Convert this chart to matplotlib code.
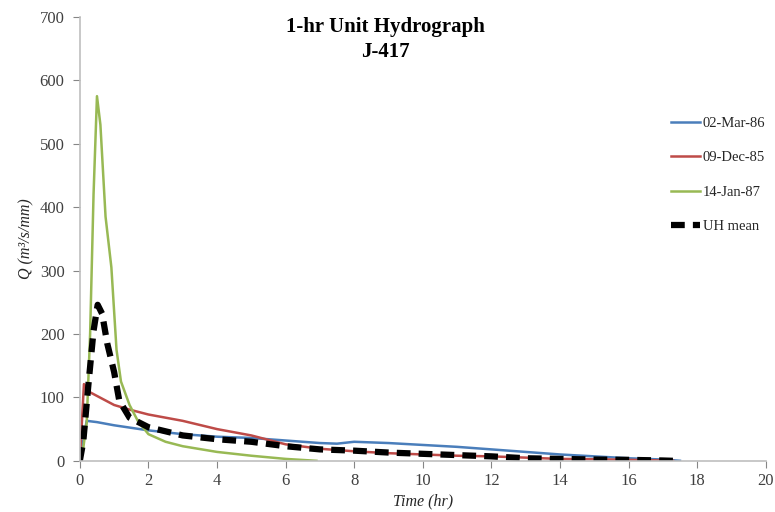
import matplotlib
matplotlib.use("Agg")
import matplotlib.pyplot as plt

# ---- data ----
t_mar86 = [0, 0.2, 0.5, 1, 2, 3, 4, 5, 6, 7, 7.5, 8, 9, 10, 11, 12, 13, 14, 15, 16, 17, 17.5]
q_mar86 = [0, 63, 61, 56, 48, 42, 38, 36, 32, 28, 27, 30, 28, 25, 22, 18, 14, 10, 7, 4, 2, 0]

t_dec85 = [0, 0.12, 0.3, 1, 1.5, 2, 3, 4, 5, 6, 7, 8, 9, 10, 11, 12, 13, 14, 15, 16, 17, 17.3]
q_dec85 = [0, 121, 108, 88, 80, 73, 63, 50, 40, 26, 19, 15, 12, 10, 8, 7, 5, 3, 2.5, 1.5, 0.5, 0]

t_jan87 = [0, 0.1, 0.2, 0.3, 0.4, 0.5, 0.6, 0.75, 0.92, 1.07, 1.2, 1.45, 1.7, 2, 2.5, 3, 4, 5, 6, 6.9]
q_jan87 = [0, 20, 60, 200, 420, 575, 530, 385, 305, 175, 125, 88, 62, 42, 30, 23, 14, 8, 3, 0]

t_uh = [0, 0.1, 0.25, 0.4, 0.52, 0.65, 0.8, 1.0, 1.15, 1.45, 2, 3, 4, 5, 6, 7, 8, 9, 10, 11, 12, 13, 14, 15, 16, 17, 17.3]
q_uh = [0, 30, 120, 205, 246, 232, 185, 140, 95, 68, 53, 40, 34, 30, 23, 18, 16, 13, 11, 9, 7, 4, 3, 2, 1.5, 0.5, 0]

labels = ["02-Mar-86", "09-Dec-85", "14-Jan-87", "UH mean"]
x_ticks = list(range(0, 21, 2))
y_ticks = list(range(0, 701, 100))

serif = ["Liberation Serif", "DejaVu Serif"]
plt.rcParams["font.family"] = serif

fig = plt.figure(figsize=(7.75, 5.12), dpi=100)
ax = fig.add_axes([0.103, 0.1, 0.885, 0.867])

ax.plot(t_mar86, q_mar86, color="#4A7EBB", lw=1.8, label=labels[0])
ax.plot(t_dec85, q_dec85, color="#BE4B48", lw=1.8, label=labels[1])
ax.plot(t_jan87, q_jan87, color="#98B954", lw=1.8, label=labels[2])
ax.plot(t_uh, q_uh, color="black", lw=4.5, dashes=(2.2, 1.3), label=labels[3])

ax.set_xlim(0, 20)
ax.set_ylim(0, 700)
ax.set_xticks(x_ticks)
ax.set_yticks(y_ticks)
ax.tick_params(labelsize=12, length=5, color="#868686", labelcolor="#404040",
               direction="out", pad=4)
ax.tick_params(axis="y", pad=6)

for s in ["top", "right"]:
    ax.spines[s].set_visible(False)
for s in ["left", "bottom"]:
    ax.spines[s].set_color("#BFBFBF")
    ax.spines[s].set_linewidth(1.2)

ax.set_xlabel("Time (hr)", fontsize=11.5, style="italic", labelpad=3, color="#262626")
ax.set_ylabel("Q (m³/s/mm)", fontsize=11.5, style="italic", labelpad=4, color="#262626")

fig.text(0.497, 0.947, "1-hr Unit Hydrograph", ha="center", va="center",
         fontsize=15, fontweight="bold")
fig.text(0.497, 0.899, "J-417", ha="center", va="center",
         fontsize=15, fontweight="bold")

leg = ax.legend(loc="upper left", bbox_to_anchor=(0.858, 0.783),
                bbox_transform=fig.transFigure, frameon=False,
                fontsize=10.5, labelspacing=1.45, handlelength=2.0,
                handletextpad=0.2, borderaxespad=0)
for txt in leg.get_texts():
    txt.set_color("#262626")

fig.savefig("out.png", dpi=100)
